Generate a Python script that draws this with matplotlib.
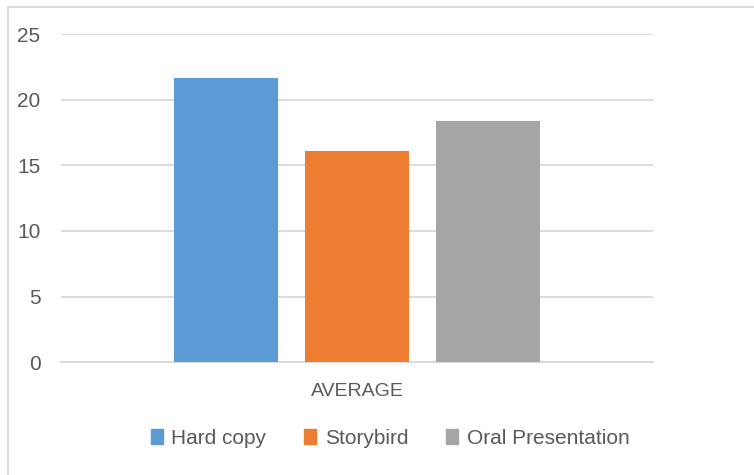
import matplotlib.pyplot as plt
from matplotlib.lines import Line2D
from matplotlib.patches import Patch

# Average scores per format
series = ['Hard copy', 'Storybird', 'Oral Presentation']
values = [21.65, 16.1, 18.38]
colors = ['#5B9BD5', '#ED7D31', '#A5A5A5']
category = 'AVERAGE'
yticks = [0, 5, 10, 15, 20, 25]

text_color = '#595959'
grid_color = '#D9D9D9'
plt.rcParams['font.family'] = ['Liberation Sans', 'DejaVu Sans']

fig = plt.figure(figsize=(7.54, 4.75), dpi=100)
ax = fig.add_axes([0.0815, 0.2373, 0.784, 0.6911])

# three bars around the single category
positions = [i - (len(series) - 1) / 2 for i in range(len(series))]
for pos, val, col, name in zip(positions, values, colors, series):
    ax.bar(pos, val, width=0.794, color=col, label=name, zorder=3)

ax.set_xlim(-2.256, 2.256)
ax.set_ylim(0, 25)
ax.set_yticks(yticks)
ax.set_yticklabels([str(t) for t in yticks], fontsize=15, color=text_color)
ax.set_xticks([0])
ax.set_xticklabels([category], fontsize=14, color=text_color)
ax.tick_params(axis='y', length=0, pad=15)
ax.tick_params(axis='x', length=0, pad=15)

ax.grid(axis='y', color=grid_color, linewidth=1.3, zorder=0)
for side in ['top', 'right', 'left']:
    ax.spines[side].set_visible(False)
ax.spines['bottom'].set_color(grid_color)
ax.spines['bottom'].set_linewidth(1.3)

# chart area border (top and left edges)
fig.add_artist(Line2D([8 / 754, 1.0], [1 - 7 / 475, 1 - 7 / 475],
                      transform=fig.transFigure, color=grid_color, linewidth=1.3))
fig.add_artist(Line2D([8 / 754, 8 / 754], [0, 1 - 7 / 475],
                      transform=fig.transFigure, color=grid_color, linewidth=1.3))

handles = [Patch(color=c, label=s) for c, s in zip(colors, series)]
fig.legend(handles=handles, loc='center', bbox_to_anchor=(390 / 754, 1 - 438 / 475),
           ncol=3, frameon=False, fontsize=15, labelcolor=text_color,
           handlelength=0.6, handleheight=0.7, handletextpad=0.4, columnspacing=1.8)

fig.savefig('out.png', dpi=100)
